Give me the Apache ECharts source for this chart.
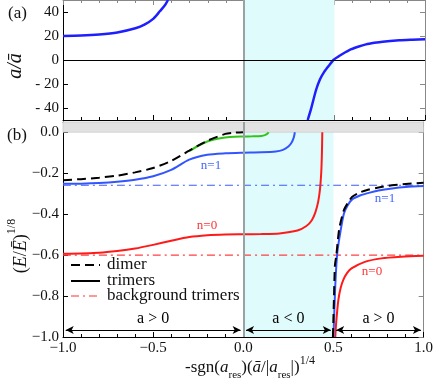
<!DOCTYPE html>
<html>
<head>
<meta charset="utf-8">
<script src="https://cdn.jsdelivr.net/npm/echarts@6/dist/echarts.min.js"></script>
<style>
html, body { margin: 0; padding: 0; background: #fff; }
#main { width: 436px; height: 383px; }
</style>
</head>
<body>
<div id="main"></div>
<script>
// (a) scattering length a/abar
var aLeftX = [-1, -0.9, -0.8, -0.7, -0.6, -0.55, -0.5, -0.464, -0.436, -0.42];
var aLeftY = [20.0, 20.4, 21.3, 23.0, 26.5, 29.5, 34.5, 40.8, 45.8, 50];
var aRightX = [0.352, 0.37, 0.398, 0.42, 0.444, 0.47, 0.494, 0.53, 0.582, 0.63, 0.674, 0.72, 0.766, 0.858, 0.93, 1.0];
var aRightY = [-50, -41, -25, -16, -9.7, -4.5, 0, 3.8, 8.3, 11, 13, 14.3, 15.3, 16.4, 16.9, 17.3];

// (b) energies (E/Ebar)^(1/8)
var dimerLeftX = [-1, -0.9, -0.8, -0.7, -0.6, -0.5, -0.4, -0.3, -0.2, -0.1, -0.05, 0];
var dimerLeftE = [-0.234, -0.229, -0.222, -0.212, -0.196, -0.175, -0.14, -0.09, -0.042, -0.008, -0.002, 0];
var dimerRightX = [0.497, 0.503, 0.508, 0.516, 0.525, 0.534, 0.558, 0.58, 0.604, 0.65, 0.696, 0.75, 0.825, 0.9, 1.0];
var dimerRightE = [-1, -0.8, -0.65, -0.6, -0.52, -0.462, -0.38, -0.345, -0.315, -0.293, -0.28, -0.27, -0.259, -0.253, -0.247];

var n1LeftX = [-1, -0.9, -0.8, -0.7, -0.6, -0.5, -0.4, -0.3, -0.2, -0.1, 0, 0.1, 0.18, 0.22, 0.25, 0.268, 0.28, 0.286];
var n1LeftE = [-0.252, -0.251, -0.248, -0.242, -0.232, -0.215, -0.184, -0.134, -0.11, -0.103, -0.1, -0.098, -0.094, -0.086, -0.07, -0.05, -0.025, 0];
var n1RightX = [0.5, 0.51, 0.52, 0.534, 0.558, 0.58, 0.604, 0.65, 0.696, 0.75, 0.825, 0.9, 1.0];
var n1RightE = [-1, -0.75, -0.6, -0.51, -0.397, -0.355, -0.328, -0.308, -0.296, -0.285, -0.275, -0.268, -0.263];

var n0LeftX = [-1, -0.8, -0.7, -0.6, -0.5, -0.4, -0.3, -0.2, -0.1, 0, 0.1, 0.2, 0.3, 0.35, 0.38, 0.4, 0.415, 0.425, 0.432, 0.436, 0.438];
var n0LeftE = [-0.594, -0.588, -0.58, -0.568, -0.55, -0.53, -0.512, -0.503, -0.499, -0.498, -0.497, -0.494, -0.48, -0.458, -0.43, -0.39, -0.34, -0.28, -0.2, -0.1, 0];
var n0RightX = [0.51, 0.515, 0.527, 0.54, 0.554, 0.575, 0.6, 0.674, 0.766, 0.877, 1.0];
var n0RightE = [-1, -0.93, -0.82, -0.76, -0.722, -0.688, -0.665, -0.633, -0.616, -0.608, -0.603];

var shallowX = [-0.3, -0.25, -0.2, -0.15, -0.1, -0.05, 0, 0.05, 0.1, 0.12, 0.132, 0.138, 0.14];
var shallowE = [-0.092, -0.066, -0.045, -0.033, -0.026, -0.022, -0.021, -0.02, -0.018, -0.014, -0.008, -0.003, 0];

var bgTrimerE = [-0.259, -0.6];     // n=1, n=0 background trimers
var regions = [[-1, 0, 'a > 0'], [0, 0.5, 'a < 0'], [0.5, 1, 'a > 0']];
var arrowE = -0.966;

var aTicks = [-40, -20, 0, 20, 40];
var eTicks = [-1, -0.8, -0.6, -0.4, -0.2, 0];

var SERIF = 'Liberation Serif';

function zip(xs, ys) {
    return xs.map(function (x, i) { return [x, ys[i]]; });
}

function xAx(grid, pos, showLabel, color) {
    return {
        type: 'value', gridIndex: grid, position: pos, min: -1, max: 1, interval: 0.5,
        axisLine: { show: true, onZero: false, lineStyle: { color: color, width: 1 } },
        axisTick: { show: true, inside: true, length: 5, lineStyle: { color: color } },
        minorTick: { show: true, splitNumber: 5, length: 3, lineStyle: { color: color } },
        splitLine: { show: false },
        axisLabel: {
            show: showLabel, margin: 4, fontSize: 15, color: '#111', fontFamily: SERIF,
            formatter: function (v) { return (v < 0 ? '\u2212' : '') + Math.abs(v).toFixed(1); }
        }
    };
}

function yAx(grid, pos, min, max, ticks, showLabel, color, fmt) {
    return {
        type: 'value', gridIndex: grid, position: pos, min: min, max: max,
        axisLine: { show: true, onZero: false, lineStyle: { color: color, width: 1 } },
        axisTick: { show: true, inside: true, length: 5, customValues: ticks, lineStyle: { color: color } },
        splitLine: { show: false },
        axisLabel: {
            show: showLabel, customValues: ticks, margin: 4, fontSize: 15, color: '#111', fontFamily: SERIF,
            formatter: fmt
        }
    };
}

var fmtA = function (v) { return v < 0 ? '- ' + (-v) : String(v); };
var fmtE = function (v) { return (v < 0 ? '\u2212' : '') + Math.abs(v).toFixed(1); };

function curve(name, data, color, width, dash, xi, yi) {
    return {
        name: name, type: 'line', data: data, xAxisIndex: xi, yAxisIndex: yi,
        symbol: 'none', smooth: 0.25, silent: true,
        lineStyle: { color: color, width: width, type: dash || 'solid' }
    };
}

var chart = echarts.init(document.getElementById('main'));

var aLeft = curve('aLeft', zip(aLeftX, aLeftY), '#1e1eff', 2.5, null, 0, 0);
aLeft.markArea = {
    silent: true,
    itemStyle: { color: '#dffbfc' },
    data: [[{ xAxis: 0 }, { xAxis: 0.5 }]]
};
aLeft.markLine = {
    silent: true, symbol: 'none', label: { show: false },
    data: [
        { xAxis: 0, lineStyle: { color: '#9aa3a3', width: 2, type: 'solid' } },
        { yAxis: 0, lineStyle: { color: '#000', width: 1, type: 'solid' } }
    ]
};
var aRight = curve('aRight', zip(aRightX, aRightY), '#1e1eff', 2.5, null, 0, 0);

var bgBlue = curve('bgBlue', [[-1, bgTrimerE[0]], [1, bgTrimerE[0]]], '#3d5eff', 1.2, [8, 4, 2, 4], 2, 2);
bgBlue.markArea = {
    silent: true,
    data: [
        [{ xAxis: 0, itemStyle: { color: '#dffbfc' } }, { xAxis: 0.5 }],
        [{ yAxis: 0, itemStyle: { color: '#e2e2e2', borderColor: '#c4c4c4', borderWidth: 0.6 } }, { yAxis: 0.05 }]
    ]
};
bgBlue.markLine = {
    silent: true, symbol: 'none', label: { show: false },
    data: [{ xAxis: 0, lineStyle: { color: '#9aa3a3', width: 2, type: 'solid' } }]
};
var bgRed = curve('bgRed', [[-1, bgTrimerE[1]], [1, bgTrimerE[1]]], '#ff4040', 1.2, [8, 4, 2, 4], 2, 2);
bgRed.markLine = {
    silent: true, symbol: ['arrow', 'arrow'], symbolSize: [6, 8],
    lineStyle: { color: '#000', width: 1, type: 'solid' },
    label: { show: true, position: 'insideMiddleTop', distance: 3, color: '#000', fontSize: 16, fontFamily: SERIF, formatter: '{b}' },
    data: regions.map(function (r) {
        return [{ coord: [r[0] + 0.015, arrowE], name: r[2] }, { coord: [r[1] - 0.015, arrowE] }];
    })
};

var series = [
    aLeft, aRight,
    bgBlue, bgRed,
    curve('n0Left', zip(n0LeftX, n0LeftE), '#ff1a1a', 2, null, 2, 2),
    curve('n0Right', zip(n0RightX, n0RightE), '#ff1a1a', 2, null, 2, 2),
    curve('n1Left', zip(n1LeftX, n1LeftE), '#3355ff', 2, null, 2, 2),
    curve('n1Right', zip(n1RightX, n1RightE), '#3355ff', 2, null, 2, 2),
    curve('shallow', zip(shallowX, shallowE), '#33c41a', 2, null, 2, 2),
    curve('dimerLeft', zip(dimerLeftX, dimerLeftE), '#000', 2, [9, 5], 2, 2),
    curve('dimerRight', zip(dimerRightX, dimerRightE), '#000', 2, [9, 5], 2, 2)
];

var txt = { fontFamily: SERIF, fill: '#111' };

var option = {
    animation: false,
    backgroundColor: '#fff',
    grid: [
        { left: 63, right: 11, top: 0, height: 120 },
        { left: 63, right: 11, top: 122, height: 215 }
    ],
    xAxis: [
        xAx(0, 'bottom', false, '#000'),
        xAx(0, 'top', false, '#888'),
        xAx(1, 'bottom', true, '#000'),
        xAx(1, 'top', false, '#555')
    ],
    yAxis: [
        yAx(0, 'left', -50, 50, aTicks, true, '#000', fmtA),
        yAx(0, 'right', -50, 50, aTicks, false, '#888', fmtA),
        yAx(1, 'left', -1, 0.05, eTicks, true, '#000', fmtE),
        yAx(1, 'right', -1, 0.05, eTicks, false, '#888', fmtE)
    ],
    series: series,
    graphic: [
        { type: 'text', left: 8, top: 5, style: Object.assign({ text: '(a)', fontSize: 17 }, txt) },
        { type: 'text', left: 7, top: 127, style: Object.assign({ text: '(b)', fontSize: 17 }, txt) },
        {
            type: 'text', x: 16, y: 66, rotation: Math.PI / 2,
            style: Object.assign({ text: 'a/\u0101', fontSize: 20, fontStyle: 'italic', align: 'center', verticalAlign: 'middle' }, txt)
        },
        {
            type: 'text', x: 18, y: 246, rotation: Math.PI / 2,
            style: Object.assign({
                text: '{n|(}{i|E}{n|/}{i|\u0112}{n|)}{p|1/8}', align: 'center', verticalAlign: 'middle',
                rich: {
                    n: { fontSize: 18, fontFamily: SERIF, lineHeight: 24, verticalAlign: 'bottom' },
                    i: { fontSize: 18, fontFamily: SERIF, fontStyle: 'italic', lineHeight: 24, verticalAlign: 'bottom' },
                    p: { fontSize: 12, fontFamily: SERIF, verticalAlign: 'top', lineHeight: 24 }
                }
            }, txt)
        },
        {
            type: 'text', x: 250, y: 368,
            style: Object.assign({
                text: '{n|-sgn(}{i|a}{s|res}{n|)(}{i|\u0101}{n|/|}{i|a}{s|res}{n||)}{p|1/4}', align: 'center', verticalAlign: 'middle',
                rich: {
                    n: { fontSize: 17, fontFamily: SERIF, lineHeight: 26, verticalAlign: 'middle' },
                    i: { fontSize: 17, fontFamily: SERIF, fontStyle: 'italic', lineHeight: 26, verticalAlign: 'middle' },
                    s: { fontSize: 11, fontFamily: SERIF, verticalAlign: 'bottom', lineHeight: 26 },
                    p: { fontSize: 12, fontFamily: SERIF, verticalAlign: 'top', lineHeight: 26 }
                }
            }, txt)
        },
        // legend
        { type: 'line', shape: { x1: 71, y1: 265, x2: 100, y2: 265 }, style: { stroke: '#000', lineWidth: 2, lineDash: [9, 5] } },
        { type: 'line', shape: { x1: 71, y1: 281, x2: 100, y2: 281 }, style: { stroke: '#000', lineWidth: 2 } },
        { type: 'line', shape: { x1: 71, y1: 296, x2: 100, y2: 296 }, style: { stroke: '#ff3030', lineWidth: 1.2, lineDash: [8, 4, 2, 4] } },
        { type: 'text', left: 107, top: 256, style: Object.assign({ text: 'dimer', fontSize: 17 }, txt) },
        { type: 'text', left: 107, top: 272, style: Object.assign({ text: 'trimers', fontSize: 17 }, txt) },
        { type: 'text', left: 107, top: 287, style: Object.assign({ text: 'background trimers', fontSize: 17 }, txt) },
        // level labels
        { type: 'text', x: 211, y: 166, style: { text: 'n=1', fontSize: 13, fontFamily: SERIF, fill: '#4466ff', align: 'center', verticalAlign: 'middle' } },
        { type: 'text', x: 385, y: 199, style: { text: 'n=1', fontSize: 13, fontFamily: SERIF, fill: '#4466ff', align: 'center', verticalAlign: 'middle' } },
        { type: 'text', x: 207, y: 226, style: { text: 'n=0', fontSize: 13, fontFamily: SERIF, fill: '#ff3333', align: 'center', verticalAlign: 'middle' } },
        { type: 'text', x: 372, y: 272, style: { text: 'n=0', fontSize: 13, fontFamily: SERIF, fill: '#ff3333', align: 'center', verticalAlign: 'middle' } }
    ]
};

chart.setOption(option);
</script>
</body>
</html>
